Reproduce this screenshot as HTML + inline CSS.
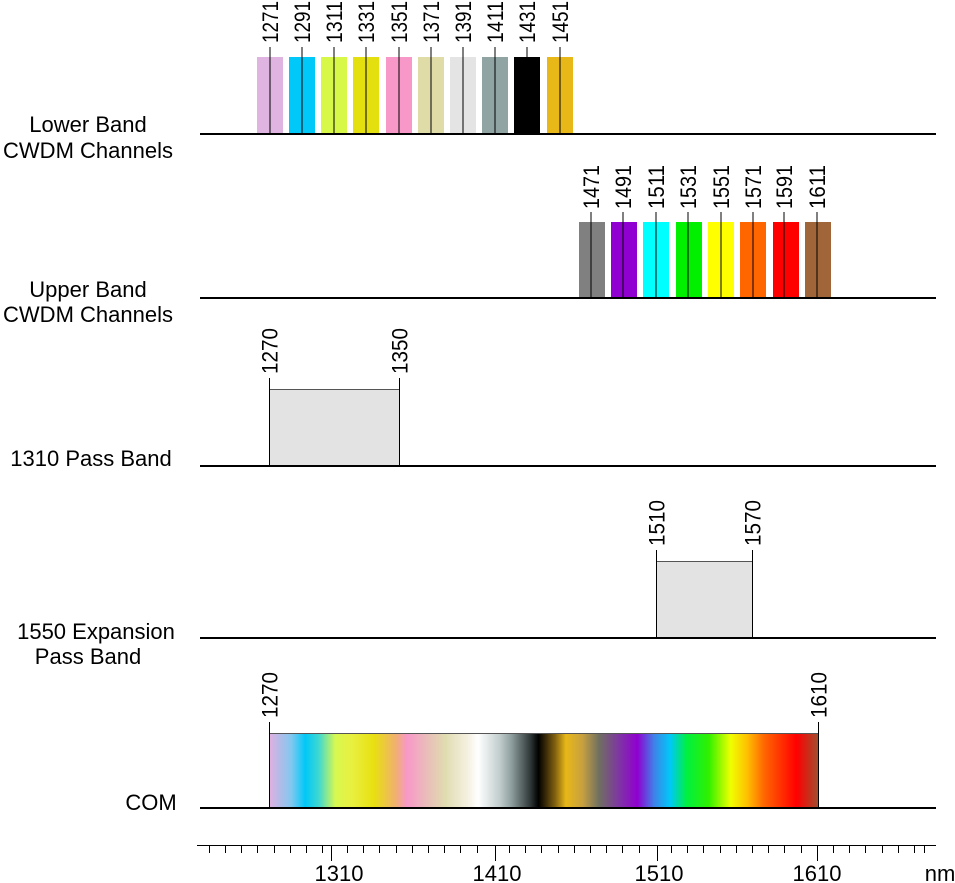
<!DOCTYPE html>
<html><head><meta charset="utf-8"><style>
html,body{margin:0;padding:0;background:#fff;}
svg{display:block;font-family:"Liberation Sans",Arial,sans-serif;}
</style></head><body>
<svg width="955" height="883" viewBox="0 0 955 883" xmlns="http://www.w3.org/2000/svg">
<defs>
<linearGradient id="g" x1="0" x2="1" y1="0" y2="0">
<stop offset="0" stop-color="#e0b0e0"/>
<stop offset="0.04" stop-color="#80c8f0"/>
<stop offset="0.065" stop-color="#00c8f8"/>
<stop offset="0.09" stop-color="#40d8d0"/>
<stop offset="0.12" stop-color="#d8f850"/>
<stop offset="0.15" stop-color="#e8f040"/>
<stop offset="0.19" stop-color="#e8e010"/>
<stop offset="0.23" stop-color="#f0b070"/>
<stop offset="0.25" stop-color="#f898c8"/>
<stop offset="0.29" stop-color="#e8c0b8"/>
<stop offset="0.32" stop-color="#e0dcb0"/>
<stop offset="0.36" stop-color="#f4f0e0"/>
<stop offset="0.38" stop-color="#ffffff"/>
<stop offset="0.42" stop-color="#c0cccc"/>
<stop offset="0.44" stop-color="#90a0a0"/>
<stop offset="0.475" stop-color="#303838"/>
<stop offset="0.49" stop-color="#000000"/>
<stop offset="0.52" stop-color="#806010"/>
<stop offset="0.54" stop-color="#e8b818"/>
<stop offset="0.57" stop-color="#c8a040"/>
<stop offset="0.6" stop-color="#707060"/>
<stop offset="0.64" stop-color="#8030a8"/>
<stop offset="0.67" stop-color="#9000d0"/>
<stop offset="0.7" stop-color="#4080e8"/>
<stop offset="0.73" stop-color="#00c8f8"/>
<stop offset="0.76" stop-color="#00f040"/>
<stop offset="0.8" stop-color="#30f000"/>
<stop offset="0.84" stop-color="#f0ff00"/>
<stop offset="0.87" stop-color="#ffc000"/>
<stop offset="0.9" stop-color="#ff6800"/>
<stop offset="0.96" stop-color="#ff0000"/>
<stop offset="1" stop-color="#a05030"/>
</linearGradient>
</defs>
<g font-size="22" fill="#000" text-anchor="middle">
<text x="88" y="132">Lower Band</text>
<text x="88" y="158">CWDM Channels</text>
<text x="88" y="297">Upper Band</text>
<text x="88" y="322">CWDM Channels</text>
<text x="91" y="466">1310 Pass Band</text>
<text x="96" y="639">1550 Expansion</text>
<text x="88" y="664">Pass Band</text>
<text x="151" y="810">COM</text>
</g>
<!-- row 1 -->
<g>
<rect x="257" y="57" width="26" height="77" fill="#e0b4e0"/>
<rect x="289" y="57" width="26" height="77" fill="#00c8f8"/>
<rect x="321" y="57" width="26" height="77" fill="#d8f848"/>
<rect x="353" y="57" width="26" height="77" fill="#e4e010"/>
<rect x="386" y="57" width="26" height="77" fill="#f898c8"/>
<rect x="418" y="57" width="26" height="77" fill="#e0dca8"/>
<rect x="450" y="57" width="26" height="77" fill="#e4e4e4"/>
<rect x="482" y="57" width="26" height="77" fill="#90a4a4"/>
<rect x="514" y="57" width="26" height="77" fill="#000"/>
<rect x="547" y="57" width="26" height="77" fill="#e8b818"/>
<g stroke="#000" stroke-width="1">
<line x1="270" y1="47" x2="270" y2="134"/><line x1="302" y1="47" x2="302" y2="134"/>
<line x1="334" y1="47" x2="334" y2="134"/><line x1="366" y1="47" x2="366" y2="134"/>
<line x1="399" y1="47" x2="399" y2="134"/><line x1="431" y1="47" x2="431" y2="134"/>
<line x1="463" y1="47" x2="463" y2="134"/><line x1="495" y1="47" x2="495" y2="134"/>
<line x1="527" y1="47" x2="527" y2="134"/><line x1="560" y1="47" x2="560" y2="134"/>
</g>
<g font-size="22">
<text transform="translate(278,43) rotate(-90)" textLength="42" lengthAdjust="spacingAndGlyphs">1271</text>
<text transform="translate(310,43) rotate(-90)" textLength="42" lengthAdjust="spacingAndGlyphs">1291</text>
<text transform="translate(342,43) rotate(-90)" textLength="42" lengthAdjust="spacingAndGlyphs">1311</text>
<text transform="translate(374,43) rotate(-90)" textLength="42" lengthAdjust="spacingAndGlyphs">1331</text>
<text transform="translate(407,43) rotate(-90)" textLength="42" lengthAdjust="spacingAndGlyphs">1351</text>
<text transform="translate(439,43) rotate(-90)" textLength="42" lengthAdjust="spacingAndGlyphs">1371</text>
<text transform="translate(471,43) rotate(-90)" textLength="42" lengthAdjust="spacingAndGlyphs">1391</text>
<text transform="translate(503,43) rotate(-90)" textLength="42" lengthAdjust="spacingAndGlyphs">1411</text>
<text transform="translate(535,43) rotate(-90)" textLength="42" lengthAdjust="spacingAndGlyphs">1431</text>
<text transform="translate(568,43) rotate(-90)" textLength="42" lengthAdjust="spacingAndGlyphs">1451</text>
</g>
<line x1="200" y1="134" x2="936" y2="134" stroke="#000" stroke-width="2"/>
</g>
<!-- row 2 -->
<g>
<rect x="579" y="222" width="26" height="76" fill="#808080"/>
<rect x="611" y="222" width="26" height="76" fill="#9000d0"/>
<rect x="643" y="222" width="26" height="76" fill="#00ffff"/>
<rect x="676" y="222" width="26" height="76" fill="#00f000"/>
<rect x="708" y="222" width="26" height="76" fill="#ffff00"/>
<rect x="740" y="222" width="26" height="76" fill="#ff6600"/>
<rect x="773" y="222" width="26" height="76" fill="#ff0000"/>
<rect x="805" y="222" width="26" height="76" fill="#a0663a"/>
<g stroke="#000" stroke-width="1">
<line x1="591" y1="212" x2="591" y2="298"/><line x1="623" y1="212" x2="623" y2="298"/>
<line x1="656" y1="212" x2="656" y2="298"/><line x1="688" y1="212" x2="688" y2="298"/>
<line x1="721" y1="212" x2="721" y2="298"/><line x1="753" y1="212" x2="753" y2="298"/>
<line x1="784" y1="212" x2="784" y2="298"/><line x1="817" y1="212" x2="817" y2="298"/>
</g>
<g font-size="22">
<text transform="translate(599,209) rotate(-90)" textLength="44" lengthAdjust="spacingAndGlyphs">1471</text>
<text transform="translate(631,209) rotate(-90)" textLength="44" lengthAdjust="spacingAndGlyphs">1491</text>
<text transform="translate(664,209) rotate(-90)" textLength="44" lengthAdjust="spacingAndGlyphs">1511</text>
<text transform="translate(696,209) rotate(-90)" textLength="44" lengthAdjust="spacingAndGlyphs">1531</text>
<text transform="translate(729,209) rotate(-90)" textLength="44" lengthAdjust="spacingAndGlyphs">1551</text>
<text transform="translate(761,209) rotate(-90)" textLength="44" lengthAdjust="spacingAndGlyphs">1571</text>
<text transform="translate(792,209) rotate(-90)" textLength="44" lengthAdjust="spacingAndGlyphs">1591</text>
<text transform="translate(825,209) rotate(-90)" textLength="44" lengthAdjust="spacingAndGlyphs">1611</text>
</g>
<line x1="200" y1="298" x2="936" y2="298" stroke="#000" stroke-width="2"/>
</g>
<!-- row 3 -->
<g>
<rect x="269.5" y="389.5" width="130" height="77" fill="#e3e3e3" stroke="#555" stroke-width="1"/>
<line x1="269.5" y1="378" x2="269.5" y2="466" stroke="#000"/>
<line x1="399.5" y1="378" x2="399.5" y2="466" stroke="#000"/>
<g font-size="22">
<text transform="translate(277.5,374) rotate(-90)" textLength="46" lengthAdjust="spacingAndGlyphs">1270</text>
<text transform="translate(407.5,374) rotate(-90)" textLength="46" lengthAdjust="spacingAndGlyphs">1350</text>
</g>
<line x1="200" y1="466" x2="936" y2="466" stroke="#000" stroke-width="2"/>
</g>
<!-- row 4 -->
<g>
<rect x="656.5" y="561.5" width="96" height="77" fill="#e3e3e3" stroke="#555" stroke-width="1"/>
<line x1="656.5" y1="550" x2="656.5" y2="638" stroke="#000"/>
<line x1="752.5" y1="550" x2="752.5" y2="638" stroke="#000"/>
<g font-size="22">
<text transform="translate(664.5,546) rotate(-90)" textLength="46" lengthAdjust="spacingAndGlyphs">1510</text>
<text transform="translate(760.5,546) rotate(-90)" textLength="46" lengthAdjust="spacingAndGlyphs">1570</text>
</g>
<line x1="200" y1="638" x2="936" y2="638" stroke="#000" stroke-width="2"/>
</g>
<!-- row 5 -->
<g>
<rect x="269.5" y="733.5" width="549" height="75" fill="url(#g)" stroke="#555" stroke-width="1"/>
<line x1="269.5" y1="722" x2="269.5" y2="808" stroke="#000"/>
<line x1="818.5" y1="722" x2="818.5" y2="808" stroke="#000"/>
<g font-size="22">
<text transform="translate(277.5,718) rotate(-90)" textLength="46" lengthAdjust="spacingAndGlyphs">1270</text>
<text transform="translate(826.5,718) rotate(-90)" textLength="46" lengthAdjust="spacingAndGlyphs">1610</text>
</g>
<line x1="200" y1="808" x2="936" y2="808" stroke="#000" stroke-width="2"/>
</g>
<!-- axis -->
<line x1="197" y1="845.5" x2="936" y2="845.5" stroke="#000" stroke-width="1"/>
<g font-size="22" text-anchor="middle">
<text x="339" y="881">1310</text>
<text x="497" y="881">1410</text>
<text x="659" y="881">1510</text>
<text x="817" y="881">1610</text>
<text x="940" y="881">nm</text>
</g>
<g stroke="#000" stroke-width="1">
<line x1="209.5" y1="845" x2="209.5" y2="853"/><line x1="225.5" y1="845" x2="225.5" y2="853"/><line x1="241.5" y1="845" x2="241.5" y2="853"/><line x1="257.5" y1="845" x2="257.5" y2="853"/><line x1="274.5" y1="845" x2="274.5" y2="853"/><line x1="290.5" y1="845" x2="290.5" y2="853"/><line x1="306.5" y1="845" x2="306.5" y2="853"/><line x1="322.5" y1="845" x2="322.5" y2="853"/>
<line x1="331.5" y1="845" x2="331.5" y2="861"/>
<line x1="347.5" y1="845" x2="347.5" y2="853"/><line x1="363.5" y1="845" x2="363.5" y2="853"/><line x1="379.5" y1="845" x2="379.5" y2="853"/><line x1="396.5" y1="845" x2="396.5" y2="853"/><line x1="412.5" y1="845" x2="412.5" y2="853"/><line x1="428.5" y1="845" x2="428.5" y2="853"/><line x1="444.5" y1="845" x2="444.5" y2="853"/><line x1="460.5" y1="845" x2="460.5" y2="853"/><line x1="477.5" y1="845" x2="477.5" y2="853"/>
<line x1="495.5" y1="845" x2="495.5" y2="861"/>
<line x1="509.5" y1="845" x2="509.5" y2="853"/><line x1="525.5" y1="845" x2="525.5" y2="853"/><line x1="541.5" y1="845" x2="541.5" y2="853"/><line x1="558.5" y1="845" x2="558.5" y2="853"/><line x1="574.5" y1="845" x2="574.5" y2="853"/><line x1="590.5" y1="845" x2="590.5" y2="853"/><line x1="606.5" y1="845" x2="606.5" y2="853"/><line x1="622.5" y1="845" x2="622.5" y2="853"/><line x1="639.5" y1="845" x2="639.5" y2="853"/>
<line x1="657.5" y1="845" x2="657.5" y2="861"/>
<line x1="671.5" y1="845" x2="671.5" y2="853"/><line x1="687.5" y1="845" x2="687.5" y2="853"/><line x1="703.5" y1="845" x2="703.5" y2="853"/><line x1="720.5" y1="845" x2="720.5" y2="853"/><line x1="736.5" y1="845" x2="736.5" y2="853"/><line x1="752.5" y1="845" x2="752.5" y2="853"/><line x1="768.5" y1="845" x2="768.5" y2="853"/><line x1="784.5" y1="845" x2="784.5" y2="853"/><line x1="801.5" y1="845" x2="801.5" y2="853"/>
<line x1="817.5" y1="845" x2="817.5" y2="861"/>
<line x1="833.5" y1="845" x2="833.5" y2="853"/><line x1="849.5" y1="845" x2="849.5" y2="853"/><line x1="865.5" y1="845" x2="865.5" y2="853"/><line x1="882.5" y1="845" x2="882.5" y2="853"/><line x1="898.5" y1="845" x2="898.5" y2="853"/><line x1="914.5" y1="845" x2="914.5" y2="853"/><line x1="924.5" y1="845" x2="924.5" y2="853"/>
</g>
</svg>
</body></html>
